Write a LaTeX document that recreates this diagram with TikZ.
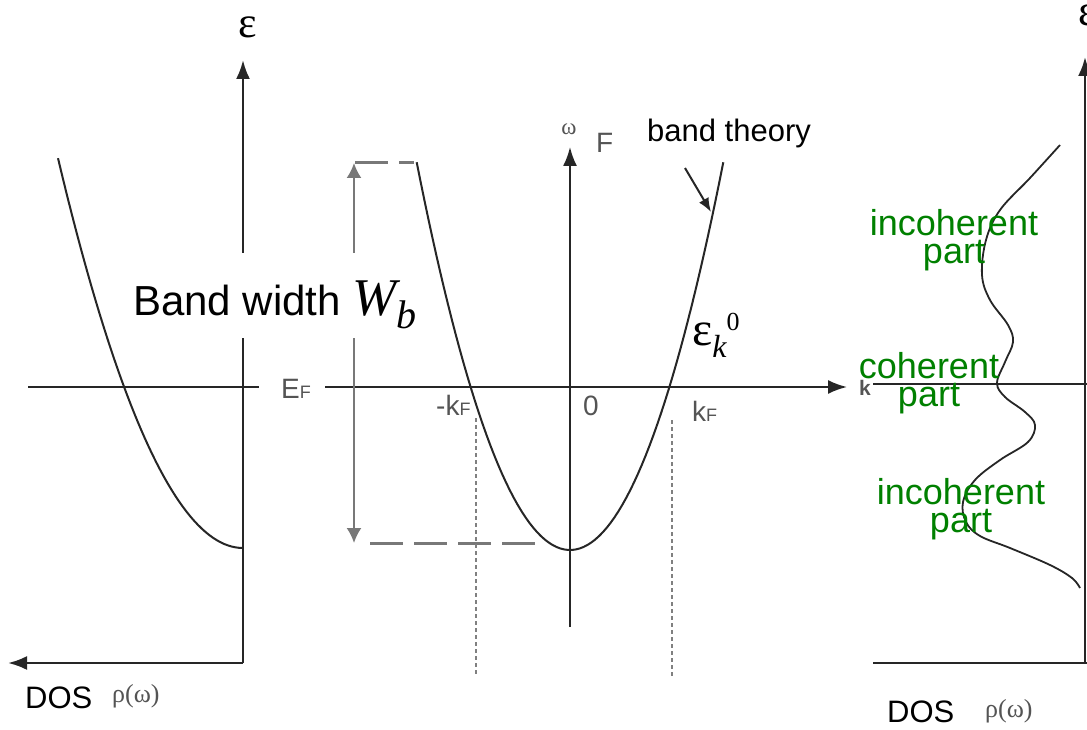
\documentclass[tikz,border=0pt]{standalone}
\usepackage{fontspec}
\setmainfont{Liberation Sans}
\newfontfamily\tnr{Liberation Serif}
\usepackage{xcolor}
\usepackage{tikz}
\usetikzlibrary{arrows.meta,positioning}

\definecolor{axisblack}{gray}{0.15}
\definecolor{bwgray}{gray}{0.47}
\definecolor{lblgray}{gray}{0.33}
\definecolor{partgreen}{RGB}{0,128,0}
\newcommand{\fs}[1]{\fontsize{#1}{#1}\selectfont}

\tikzset{
  axis/.style={line width=2.5pt, axisblack},
  bandcurve/.style={line width=2pt, axisblack},
  bwline/.style={line width=3pt, bwgray, dash pattern=on 33pt off 11pt},
  kfline/.style={line width=1.2pt, gray, dash pattern=on 4pt off 3pt},
  partlbl/.style={partgreen, align=center, inner sep=0pt, font=\fontsize{36}{28}\selectfont},
  grlbl/.style={lblgray, inner sep=0pt, anchor=base west},
}

\begin{document}
\begin{tikzpicture}[x=1pt, y=-1pt, >={Latex[length=19pt,width=14pt]}]
  \useasboundingbox (0,0) rectangle (1087,730);

  % left panel: density of states, turned on its side
  \coordinate (dosO) at (243,663);
  \coordinate (dosTop) at (243,60);
  \coordinate (dosEnd) at (8,663);
  \draw[axis, ->] (dosO) -- (dosTop);
  \draw[axis, ->] (dosO) -- (dosEnd);
  \draw[bandcurve] plot[domain=0:18.5, samples=50] ({243-10*\x}, {548-\x*\x*1.139});
  \node[inner sep=0pt, font=\tnr\fs{44}] (epsL) at (248,27) {ε};
  \node[inner sep=0pt, anchor=base west, font=\fs{31}] (dosL) at (25,708) {DOS};
  \node[grlbl, font=\tnr\fs{26}] (rhoL) at (112,702) {ρ(ω)};

  % Fermi level
  \coordinate (efA) at (28,387);
  \coordinate (efB) at (259,387);
  \coordinate (efC) at (325,387);
  \coordinate (kTip) at (847,387);
  \draw[bandcurve] (efA) -- (efB);
  \draw[bandcurve, ->] (efC) -- (kTip);
  \node[grlbl, font=\fs{28}] (EF) at (281,398) {E{\fs{18}F}};
  \node[grlbl, font=\bfseries\fs{21}] (kLbl) at (859,395) {k};

  % band width
  \coordinate (bwTop) at (354,163);
  \coordinate (bwBot) at (354,543);
  \draw[bwline] (355,163) -- (414,163);
  \draw[bwline] (370,543) -- (535,543);
  \draw[{Latex[length=15pt,width=15pt]}-{Latex[length=15pt,width=15pt]}, bwgray, line width=2pt] (bwTop) -- (bwBot);
  \node[fill=white, minimum width=325pt, minimum height=85pt, inner sep=0pt] (bwBox) at (274.5,295.5) {};
  \node[inner sep=0pt, anchor=base west] (bwTxt) at (133,315)
        {\fs{42}Band width {\tnr\itshape\fs{53}W\raisebox{-13pt}{\fs{40}b}}};

  % middle panel: free band
  \coordinate (omBot) at (570,627);
  \coordinate (omTop) at (570,147);
  \draw[bandcurve, ->] (omBot) -- (omTop);
  \node[lblgray, inner sep=0pt, font=\tnr\fs{23}] (omLbl) at (569,129) {ω};
  \node[grlbl, font=\fs{28}] (figF) at (596,153) {F};
  \draw[bandcurve] plot[domain=-15.33:15.33, samples=80] ({570+10*\x}, {550-\x*\x*1.65});
  \node[grlbl, font=\fs{28}] (zero) at (583,415) {0};
  \node[grlbl, font=\fs{28}] (mkF) at (436,415) {-k{\fs{18}F}};
  \node[grlbl, font=\fs{28}] (kF) at (692,421) {k{\fs{18}F}};
  \coordinate (kfL1) at (476,418);
  \coordinate (kfL2) at (476,676);
  \coordinate (kfR1) at (672,420);
  \coordinate (kfR2) at (672,677);
  \draw[kfline] (kfL1) -- (kfL2);
  \draw[kfline] (kfR1) -- (kfR2);

  \node[inner sep=0pt, anchor=base west, font=\fs{31}] (bandTh) at (647,142) {band theory};
  \coordinate (btFrom) at (685,168);
  \coordinate (btTo) at (711,212);
  \draw[-{Latex[length=14pt,width=11pt]}, line width=2pt, axisblack] (btFrom) -- (btTo);
  \node[inner sep=0pt, anchor=base west] (epsK) at (692,345)
        {\tnr\fs{48}ε\raisebox{-12pt}{\itshape\fs{32}k}\raisebox{15pt}{\fs{26}0}};

  % right panel: correlated density of states
  \coordinate (rBotL) at (873,663);
  \coordinate (rBotR) at (1087,663);
  \coordinate (rAx) at (1085,663);
  \coordinate (rTop) at (1085,57);
  \coordinate (rEfL) at (873,384);
  \coordinate (rEfR) at (1087,384);
  \draw[axis] (rBotL) -- (rBotR);
  \draw[axis, ->] (rAx) -- (rTop);
  \draw[bandcurve] (rEfL) -- (rEfR);
  \node[inner sep=0pt, font=\tnr\fs{44}] (epsR) at (1088,15) {ε};
  \draw[bandcurve, line width=1.8pt] plot[smooth, tension=0.6] coordinates {
    (1060,145) (1030,178) (1000,210) (986,240) (982,275) (990,300)
    (1008,325) (1013,342) (1005,362) (997,383) (1005,397) (1025,412)
    (1035,425) (1028,442) (1000,460) (975,480) (963,502) (966,522)
    (980,536) (1010,548) (1050,565) (1072,578) (1080,588)};
  \node[partlbl] (incohTop) at (954,240) {incoherent\\part};
  \node[partlbl] (coh) at (929,383) {coherent\\part};
  \node[partlbl] (incohBot) at (961,509) {incoherent\\part};
  \node[inner sep=0pt, anchor=base west, font=\fs{31}] (dosR) at (887,722) {DOS};
  \node[grlbl, font=\tnr\fs{26}] (rhoR) at (985,717) {ρ(ω)};
\end{tikzpicture}
\end{document}
